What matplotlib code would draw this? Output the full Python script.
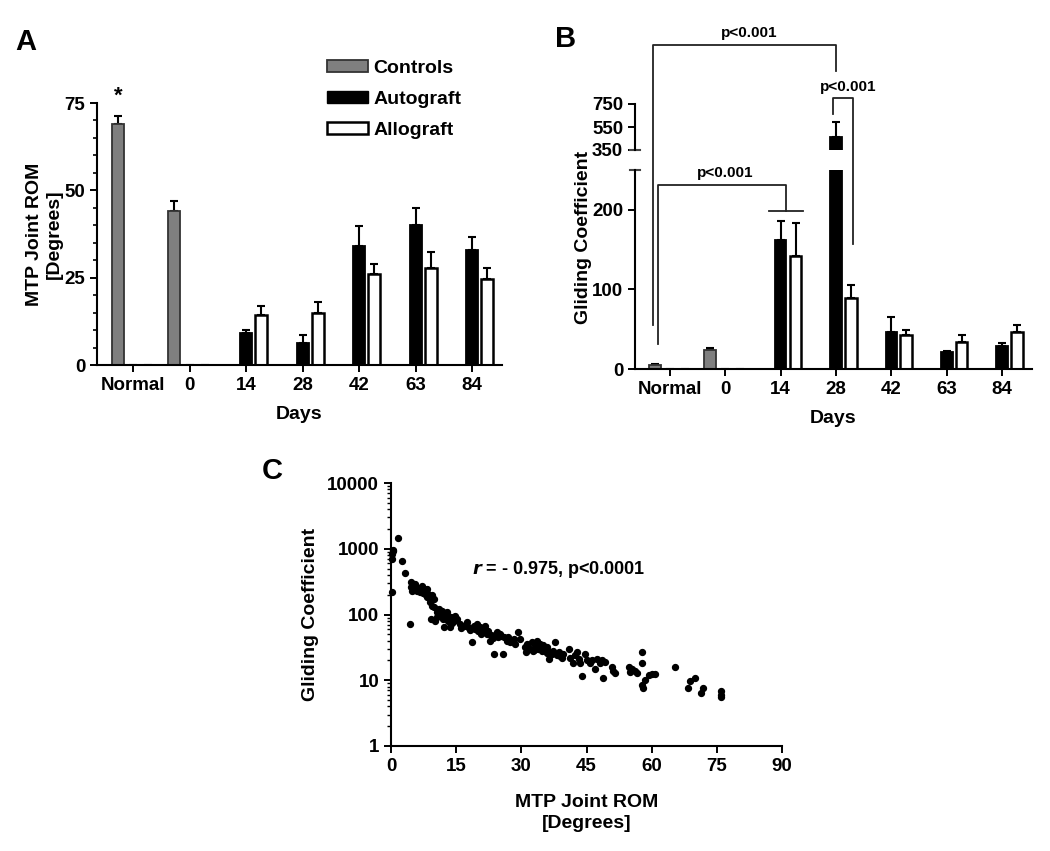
import numpy as np
import matplotlib
matplotlib.use("Agg")
import matplotlib.pyplot as plt
from matplotlib.patches import Patch

plt.rcParams['font.family'] = ['Liberation Sans', 'DejaVu Sans']
plt.rcParams['font.weight'] = 'bold'
plt.rcParams['axes.labelweight'] = 'bold'
plt.rcParams['axes.linewidth'] = 1.5

nan = np.nan

### data
days = ['Normal', '0', '14', '28', '42', '63', '84']

# panel A: MTP joint ROM [degrees]
controls_rom = [69, 44, nan, nan, nan, nan, nan]
controls_rom_err = [2.3, 2.9, nan, nan, nan, nan, nan]
autograft_rom = [0, 0, 9.2, 6.3, 34.1, 40.1, 32.9]
autograft_rom_err = [nan, nan, 0.9, 2.3, 5.7, 4.8, 3.7]
allograft_rom = [0, 0, 14.3, 14.9, 26.0, 27.8, 24.6]
allograft_rom_err = [nan, nan, 2.6, 3.1, 2.9, 4.5, 3.2]

# panel B: gliding coefficient
controls_gc = [5, 24, nan, nan, nan, nan, nan]
controls_gc_err = [0.8, 2, nan, nan, nan, nan, nan]
autograft_gc = [0, 0, 162, 460, 47, 21, 29]
autograft_gc_err = [nan, nan, 24, 130, 18, 1, 4]
allograft_gc = [0, 0, 142, 89, 42.5, 34, 46]
allograft_gc_err = [nan, nan, 41, 17, 6.5, 8.5, 9]

# panel C: ROM vs gliding coefficient
rom_pts = [0.4, 0.15, 0.3, 0.5, 0.15, 1.7, 2.5, 3.2, 4.4, 4.6, 5.0, 5.1, 4.5, 5.5, 4.8,
           5.9, 6.7, 7.1, 7.5, 7.8, 8.2, 8.2, 8.6, 9.0, 9.4, 9.8, 9.1, 9.4, 9.9, 10.1,
           10.5, 10.7, 11.1, 11.3, 11.7, 11.9, 12.2, 12.4, 12.8, 13.2, 13.6, 13.7, 14.4, 14.7, 15.1,
           15.9, 16.7, 17.4, 17.8, 18.6, 19.0, 19.4, 19.7, 20.1, 20.5, 20.9, 21.3, 21.7, 22.0, 22.4,
           22.7, 23.0, 23.6, 24.0, 24.3, 24.7, 25.1, 25.7, 26.0, 26.7, 27.0, 27.4, 28.2, 29.3, 29.7,
           30.9, 31.1, 31.4, 31.9, 32.4, 32.8, 33.2, 33.6, 33.9, 34.3, 34.7, 35.1, 35.5, 35.9, 36.3,
           36.6, 37.0, 37.4, 37.8, 38.2, 38.6, 39.3, 39.7, 40.9, 41.2, 42.0, 42.4, 42.8, 43.2, 43.5,
           43.9, 44.7, 45.1, 45.9, 46.2, 47.0, 47.4, 48.2, 48.5, 48.8, 49.3, 50.8, 51.2, 51.6, 54.7,
           55.1, 55.5, 56.2, 56.6, 57.8, 57.8, 57.8, 57.9, 58.5, 59.3, 60.0, 60.8, 65.4, 68.3, 68.9,
           70.0, 71.4, 71.8, 76.0, 76.0, 76.0,
           6.2, 7.3, 10.9, 12.0, 14.0, 16.2, 18.2, 20.8, 23.4, 25.4, 28.6, 31.6, 33.0, 35.8, 38.9]
gc_pts = [930, 830, 700, 950, 218, 1450, 660, 425, 72, 310, 290, 260, 260, 290, 230,
          230, 220, 275, 245, 205, 245, 183, 205, 154, 195, 173, 86, 137, 129, 81,
          109, 91, 122, 102, 115, 91, 65, 96, 109, 81, 65, 91, 81, 96, 86,
          72, 68, 76, 65, 38, 68, 60, 72, 57, 65, 54, 60, 68, 51, 57,
          40, 48, 25, 48, 54, 45, 51, 25, 45, 40, 45, 38, 43, 54, 43,
          32, 27, 36, 30, 38, 28, 34, 40, 30, 36, 28, 34, 30, 32, 21,
          27, 25, 28, 38, 24, 27, 22, 25, 30, 22, 18, 24, 27, 21, 18,
          11.5, 25, 20, 18, 20, 15, 21, 18, 20, 11, 19, 16, 14, 13, 16,
          13.4, 15, 14, 13, 27, 18, 8.4, 7.7, 10, 12, 12.6, 12.6, 16, 7.5, 9.8,
          10.9, 6.5, 7.7, 6.9, 5.9, 5.5,
          250, 215, 100, 84, 75, 62, 58, 50, 44, 47, 36, 31, 29, 26, 23]

W, H = 1050, 851
fig = plt.figure(figsize=(W / 100, H / 100), dpi=100)


def fx(px):
    return px / W


def fy(py):
    return 1 - py / H


x = np.arange(len(days))
bw = 0.21
off = 0.27
TS = 13.5   # tick label size
LS = 14     # axis label size


def bars(ax, c, ce, a, ae, al, ale):
    ax.bar(x - off, c, bw, color='#7f7f7f', edgecolor='#333333', linewidth=1.3, zorder=2)
    ax.bar(x, a, bw, color='black', edgecolor='black', linewidth=1.3, zorder=2)
    ax.bar(x + off, al, bw, color='white', edgecolor='black', linewidth=1.8, zorder=2)
    for xs, v, e in [(x - off, c, ce), (x, a, ae), (x + off, al, ale)]:
        v = np.array(v, float)
        e = np.array(e, float)
        ax.errorbar(xs, v, yerr=[np.zeros_like(e), e], fmt='none', ecolor='black',
                    elinewidth=1.5, capsize=3, capthick=1.5, zorder=1)


def style(ax):
    ax.spines['top'].set_visible(False)
    ax.spines['right'].set_visible(False)
    ax.tick_params(direction='out', length=5, width=1.4, labelsize=TS)
    for t in ax.get_xticklabels() + ax.get_yticklabels():
        t.set_fontweight('bold')


### Panel A
axA = fig.add_axes([fx(97), fy(365), fx(502 - 97), fy(103) - fy(365)])
bars(axA, controls_rom, controls_rom_err, autograft_rom, autograft_rom_err,
     allograft_rom, allograft_rom_err)
axA.set_xlim(-0.64, 6.53)
axA.set_ylim(0, 75)
axA.set_yticks([0, 25, 50, 75])
axA.set_yticks(np.arange(0, 76, 5), minor=True)
axA.tick_params(axis='y', which='minor', length=3, width=1.2)
axA.set_xticks(x)
axA.set_xticklabels(days)
style(axA)
axA.set_xlabel('Days', fontsize=LS, labelpad=9)
axA.set_ylabel('MTP Joint ROM\n[Degrees]', fontsize=LS, labelpad=1, linespacing=1.25)
axA.text(-off, 77, '*', ha='center', va='center', fontsize=16, fontweight='bold')

handles = [Patch(facecolor='#7f7f7f', edgecolor='#333333', linewidth=1.3),
           Patch(facecolor='black', edgecolor='black'),
           Patch(facecolor='white', edgecolor='black', linewidth=1.8)]
fig.legend(handles, ['Controls', 'Autograft', 'Allograft'], loc='upper left',
           bbox_to_anchor=(fx(327), fy(60)), frameon=False,
           handlelength=2.1, handleheight=0.6, labelspacing=0.72, handletextpad=0.3,
           borderpad=0, borderaxespad=0, prop={'weight': 'bold', 'size': 14})

fig.text(fx(15), fy(42), 'A', fontsize=21, fontweight='bold', va='center')

### Panel B (broken y axis)
axB = fig.add_axes([fx(635), fy(369), fx(1032 - 635), fy(170) - fy(369)])
axBt = fig.add_axes([fx(635), fy(150), fx(1032 - 635), fy(104) - fy(150)])
for ax in (axB, axBt):
    bars(ax, controls_gc, controls_gc_err, autograft_gc, autograft_gc_err,
         allograft_gc, allograft_gc_err)
    ax.set_xlim(-0.63, 6.54)
    style(ax)
axB.set_ylim(0, 250)
axB.set_yticks([0, 100, 200])
axB.set_xticks(x)
axB.set_xticklabels(days)
axBt.set_ylim(350, 750)
axBt.set_yticks([350, 550, 750])
axBt.spines['bottom'].set_visible(False)
axBt.tick_params(axis='x', bottom=False, labelbottom=False)
axBt.patch.set_alpha(0)
for ax, yy in ((axB, 1), (axBt, 0)):
    ax.plot([-0.012, 0.012], [yy, yy], transform=ax.transAxes, color='#444444',
            lw=1.5, clip_on=False)
axB.set_xlabel('Days', fontsize=LS, labelpad=9)
fig.text(fx(583), fy(237), 'Gliding Coefficient', rotation=90, ha='center', va='center',
         fontsize=LS, fontweight='bold')
fig.text(fx(555), fy(39), 'B', fontsize=21, fontweight='bold', va='center')

# significance brackets (lower-axis data units, drawn outside the clip box)
lk = dict(color='#222222', lw=1.3, clip_on=False, zorder=5)
tk = dict(ha='center', va='bottom', fontsize=11, fontweight='bold')
axB.plot([-0.3, -0.3, 3.0, 3.0], [55, 407, 407, 374], **lk)
axB.text(1.43, 413, 'p<0.001', **tk)
axB.plot([-0.22, -0.22, 2.1, 2.1], [32, 231, 231, 199], **lk)
axB.plot([1.79, 2.4], [199, 199], **lk)
axB.text(1.0, 237, 'p<0.001', **tk)
axB.plot([2.95, 2.95, 3.31, 3.31], [320, 340, 340, 157], **lk)
axB.text(3.22, 346, 'p<0.001', **tk)

### Panel C
axC = fig.add_axes([fx(391), fy(746), fx(782 - 391), fy(483) - fy(746)])
axC.scatter(rom_pts, gc_pts, s=18, color='black', zorder=3, clip_on=False)
axC.set_yscale('log')
axC.set_ylim(1, 10000)
axC.set_xlim(0, 90)
axC.set_xticks(np.arange(0, 91, 15))
axC.set_yticks([1, 10, 100, 1000, 10000])
axC.set_yticklabels(['1', '10', '100', '1000', '10000'])
style(axC)
axC.tick_params(axis='y', which='minor', length=3, width=1.0)
axC.set_xlabel('MTP Joint ROM\n[Degrees]', fontsize=LS, labelpad=14, linespacing=1.3)
axC.set_ylabel('Gliding Coefficient', fontsize=LS, labelpad=6)
axC.text(18.7, 480, r'$\bf{\it{r}}$ = - 0.975, p<0.0001', fontsize=13, fontweight='bold',
         va='center', ha='left')
fig.text(fx(262), fy(471), 'C', fontsize=21, fontweight='bold', va='center')

fig.savefig('out.png', dpi=100)
